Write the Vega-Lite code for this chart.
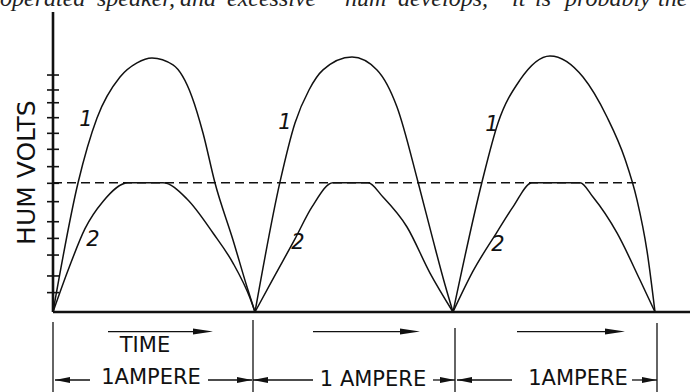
{
  "$schema": "https://vega.github.io/schema/vega-lite/v6.json",
  "width": 690,
  "height": 392,
  "autosize": {"type": "none"},
  "padding": 0,
  "background": "white",
  "config": {"view": {"stroke": null}},
  "datasets": {
    "curves": [
      {"curve": "1", "cycle": 1, "t": 0, "v": 0},
      {"curve": "1", "cycle": 1, "t": 1.25, "v": 7.59},
      {"curve": "1", "cycle": 1, "t": 2.2, "v": 11.41},
      {"curve": "1", "cycle": 1, "t": 3.35, "v": 13.82},
      {"curve": "1", "cycle": 1, "t": 4.2, "v": 14.65},
      {"curve": "1", "cycle": 1, "t": 4.95, "v": 14.94},
      {"curve": "1", "cycle": 1, "t": 6.0, "v": 14.53},
      {"curve": "1", "cycle": 1, "t": 6.95, "v": 12.65},
      {"curve": "1", "cycle": 1, "t": 7.5, "v": 10.53},
      {"curve": "1", "cycle": 1, "t": 8.1, "v": 7.59},
      {"curve": "1", "cycle": 1, "t": 9.0, "v": 4.24},
      {"curve": "1", "cycle": 1, "t": 9.7, "v": 1.47},
      {"curve": "1", "cycle": 1, "t": 10.1, "v": 0},
      {"curve": "1", "cycle": 2, "t": 10.1, "v": 0},
      {"curve": "1", "cycle": 2, "t": 11.35, "v": 7.65},
      {"curve": "1", "cycle": 2, "t": 12.1, "v": 11.12},
      {"curve": "1", "cycle": 2, "t": 12.8, "v": 13.06},
      {"curve": "1", "cycle": 2, "t": 13.5, "v": 14.24},
      {"curve": "1", "cycle": 2, "t": 14.95, "v": 15.0},
      {"curve": "1", "cycle": 2, "t": 16.2, "v": 14.24},
      {"curve": "1", "cycle": 2, "t": 17.2, "v": 12.06},
      {"curve": "1", "cycle": 2, "t": 18.25, "v": 7.65},
      {"curve": "1", "cycle": 2, "t": 19.0, "v": 4.24},
      {"curve": "1", "cycle": 2, "t": 19.6, "v": 1.6},
      {"curve": "1", "cycle": 2, "t": 20.0, "v": 0},
      {"curve": "1", "cycle": 3, "t": 20.0, "v": 0},
      {"curve": "1", "cycle": 3, "t": 21.45, "v": 7.65},
      {"curve": "1", "cycle": 3, "t": 22.25, "v": 11.12},
      {"curve": "1", "cycle": 3, "t": 23.35, "v": 13.65},
      {"curve": "1", "cycle": 3, "t": 24.85, "v": 15.06},
      {"curve": "1", "cycle": 3, "t": 26.5, "v": 13.82},
      {"curve": "1", "cycle": 3, "t": 27.7, "v": 11.47},
      {"curve": "1", "cycle": 3, "t": 28.6, "v": 9.0},
      {"curve": "1", "cycle": 3, "t": 29.2, "v": 6.6},
      {"curve": "1", "cycle": 3, "t": 29.7, "v": 3.6},
      {"curve": "1", "cycle": 3, "t": 30.1, "v": 0},
      {"curve": "2", "cycle": 1, "t": 0, "v": 0},
      {"curve": "2", "cycle": 1, "t": 0.8, "v": 2.6},
      {"curve": "2", "cycle": 1, "t": 1.6, "v": 4.9},
      {"curve": "2", "cycle": 1, "t": 2.5, "v": 6.5},
      {"curve": "2", "cycle": 1, "t": 3.75, "v": 7.6},
      {"curve": "2", "cycle": 1, "t": 5.5, "v": 7.6},
      {"curve": "2", "cycle": 1, "t": 6.7, "v": 6.65},
      {"curve": "2", "cycle": 1, "t": 8.0, "v": 4.65},
      {"curve": "2", "cycle": 1, "t": 9.0, "v": 2.88},
      {"curve": "2", "cycle": 1, "t": 9.85, "v": 0.82},
      {"curve": "2", "cycle": 1, "t": 10.1, "v": 0},
      {"curve": "2", "cycle": 2, "t": 10.1, "v": 0},
      {"curve": "2", "cycle": 2, "t": 11.0, "v": 1.95},
      {"curve": "2", "cycle": 2, "t": 12.1, "v": 4.3},
      {"curve": "2", "cycle": 2, "t": 12.95, "v": 6.18},
      {"curve": "2", "cycle": 2, "t": 14.0, "v": 7.6},
      {"curve": "2", "cycle": 2, "t": 15.75, "v": 7.6},
      {"curve": "2", "cycle": 2, "t": 16.5, "v": 6.76},
      {"curve": "2", "cycle": 2, "t": 17.7, "v": 5.0},
      {"curve": "2", "cycle": 2, "t": 18.85, "v": 2.29},
      {"curve": "2", "cycle": 2, "t": 20.0, "v": 0},
      {"curve": "2", "cycle": 3, "t": 20.0, "v": 0},
      {"curve": "2", "cycle": 3, "t": 21.0, "v": 2.4},
      {"curve": "2", "cycle": 3, "t": 22.2, "v": 4.7},
      {"curve": "2", "cycle": 3, "t": 23.0, "v": 6.18},
      {"curve": "2", "cycle": 3, "t": 23.95, "v": 7.6},
      {"curve": "2", "cycle": 3, "t": 26.35, "v": 7.6},
      {"curve": "2", "cycle": 3, "t": 27.0, "v": 6.76},
      {"curve": "2", "cycle": 3, "t": 28.2, "v": 4.65},
      {"curve": "2", "cycle": 3, "t": 29.35, "v": 1.88},
      {"curve": "2", "cycle": 3, "t": 30.1, "v": 0}
    ],
    "axes": [
      {"x": 0, "x2": 0, "y": 0, "y2": 17.65},
      {"x": 0, "x2": 31.9, "y": 0, "y2": 0}
    ],
    "ticks": [
      {"x": -0.3, "x2": 0.3, "y": 13.94},
      {"x": -0.3, "x2": 0.3, "y": 13.06},
      {"x": -0.3, "x2": 0.3, "y": 12.31},
      {"x": -0.3, "x2": 0.3, "y": 11.43},
      {"x": -0.3, "x2": 0.3, "y": 10.51},
      {"x": -0.3, "x2": 0.3, "y": 9.57},
      {"x": -0.3, "x2": 0.3, "y": 8.55},
      {"x": -0.3, "x2": 0.3, "y": 7.57},
      {"x": -0.3, "x2": 0.3, "y": 6.49},
      {"x": -0.3, "x2": 0.3, "y": 5.31},
      {"x": -0.3, "x2": 0.3, "y": 4.33},
      {"x": -0.3, "x2": 0.3, "y": 3.35},
      {"x": -0.3, "x2": 0.3, "y": 2.12},
      {"x": -0.3, "x2": 0.3, "y": 1.14}
    ],
    "dashed": [
      {"x": 0, "x2": 29.25, "y": 7.6, "y2": 7.6}
    ],
    "thin": [
      {"x": 0, "x2": 0, "y": -0.59, "y2": -4.8},
      {"x": 10.0, "x2": 10.0, "y": -0.47, "y2": -4.8},
      {"x": 20.1, "x2": 20.1, "y": -0.94, "y2": -4.8},
      {"x": 30.2, "x2": 30.2, "y": -0.65, "y2": -4.8},
      {"x": 2.75, "x2": 7.5, "y": -1.15, "y2": -1.15},
      {"x": 13.0, "x2": 17.85, "y": -1.15, "y2": -1.15},
      {"x": 23.2, "x2": 28.1, "y": -1.15, "y2": -1.15},
      {"x": 0.1, "x2": 1.85, "y": -4.0, "y2": -4.0},
      {"x": 7.75, "x2": 9.95, "y": -4.0, "y2": -4.0},
      {"x": 10.0, "x2": 13.0, "y": -4.0, "y2": -4.0},
      {"x": 19.0, "x2": 20.1, "y": -4.0, "y2": -4.0},
      {"x": 20.2, "x2": 22.95, "y": -4.0, "y2": -4.0},
      {"x": 28.95, "x2": 30.2, "y": -4.0, "y2": -4.0}
    ],
    "timeHeads": [
      {"x": 7.5, "y": -1.15},
      {"x": 17.85, "y": -1.15},
      {"x": 28.1, "y": -1.15}
    ],
    "leftHeads": [
      {"x": 0.475, "y": -4.0},
      {"x": 10.375, "y": -4.0},
      {"x": 20.575, "y": -4.0}
    ],
    "rightHeads": [
      {"x": 9.575, "y": -4.0},
      {"x": 19.725, "y": -4.0},
      {"x": 29.825, "y": -4.0}
    ],
    "labels": [
      {"text": "TIME", "x": 4.6, "y": -2.0},
      {"text": "1AMPERE", "x": 4.9, "y": -3.9},
      {"text": "1 AMPERE", "x": 16.0, "y": -4.0},
      {"text": "1AMPERE", "x": 26.25, "y": -3.95}
    ],
    "curveLabels": [
      {"text": "1", "x": 1.65, "y": 11.3},
      {"text": "2", "x": 2.0, "y": 4.25},
      {"text": "1", "x": 11.6, "y": 11.1},
      {"text": "2", "x": 12.25, "y": 4.05},
      {"text": "1", "x": 21.95, "y": 11.0},
      {"text": "2", "x": 22.25, "y": 3.95}
    ],
    "axisTitle": [
      {"text": "HUM VOLTS", "x": -1.3, "y": 8.2}
    ],
    "words": [
      {"word": "operated", "x": -2.65, "y": 18.0},
      {"word": "speaker,", "x": 2.2, "y": 18.0},
      {"word": "and", "x": 6.35, "y": 18.0},
      {"word": "excessive", "x": 8.7, "y": 18.0},
      {"word": "hum", "x": 14.6, "y": 18.0},
      {"word": "develops,", "x": 17.25, "y": 18.0},
      {"word": "it", "x": 22.95, "y": 18.0},
      {"word": "is", "x": 24.1, "y": 18.0},
      {"word": "probably", "x": 25.6, "y": 18.0},
      {"word": "the", "x": 30.25, "y": 18.0}
    ]
  },
  "layer": [
    {
      "data": {"name": "axes"},
      "mark": {"type": "rule", "color": "#111111", "strokeWidth": 2.6},
      "encoding": {
        "x": {"field": "x", "type": "quantitative", "scale": {"domain": [-2.65, 31.85], "nice": false, "zero": false}, "axis": null},
        "x2": {"field": "x2"},
        "y": {"field": "y", "type": "quantitative", "scale": {"domain": [-4.706, 18.353], "nice": false, "zero": false}, "axis": null},
        "y2": {"field": "y2"}
      }
    },
    {
      "data": {"name": "ticks"},
      "mark": {"type": "rule", "color": "#111111", "strokeWidth": 1.6},
      "encoding": {
        "x": {"field": "x", "type": "quantitative", "scale": {"domain": [-2.65, 31.85], "nice": false, "zero": false}, "axis": null},
        "x2": {"field": "x2"},
        "y": {"field": "y", "type": "quantitative", "scale": {"domain": [-4.706, 18.353], "nice": false, "zero": false}, "axis": null}
      }
    },
    {
      "data": {"name": "dashed"},
      "mark": {"type": "rule", "color": "#111111", "strokeWidth": 1.6, "strokeDash": [9, 5]},
      "encoding": {
        "x": {"field": "x", "type": "quantitative", "scale": {"domain": [-2.65, 31.85], "nice": false, "zero": false}, "axis": null},
        "x2": {"field": "x2"},
        "y": {"field": "y", "type": "quantitative", "scale": {"domain": [-4.706, 18.353], "nice": false, "zero": false}, "axis": null},
        "y2": {"field": "y2"}
      }
    },
    {
      "data": {"name": "thin"},
      "mark": {"type": "rule", "color": "#111111", "strokeWidth": 1.3},
      "encoding": {
        "x": {"field": "x", "type": "quantitative", "scale": {"domain": [-2.65, 31.85], "nice": false, "zero": false}, "axis": null},
        "x2": {"field": "x2"},
        "y": {"field": "y", "type": "quantitative", "scale": {"domain": [-4.706, 18.353], "nice": false, "zero": false}, "axis": null},
        "y2": {"field": "y2"}
      }
    },
    {
      "data": {"name": "curves"},
      "mark": {"type": "line", "color": "#111111", "strokeWidth": 1.5, "interpolate": "monotone"},
      "encoding": {
        "x": {"field": "t", "type": "quantitative", "scale": {"domain": [-2.65, 31.85], "nice": false, "zero": false}, "axis": null},
        "y": {"field": "v", "type": "quantitative", "scale": {"domain": [-4.706, 18.353], "nice": false, "zero": false}, "axis": null},
        "detail": [{"field": "curve", "type": "nominal"}, {"field": "cycle", "type": "nominal"}],
        "order": {"field": "t", "type": "quantitative"}
      }
    },
    {
      "data": {"name": "timeHeads"},
      "mark": {"type": "point", "shape": "M-1,-0.3L1,0L-1,0.3Z", "filled": true, "size": 400, "color": "#111111", "opacity": 1},
      "encoding": {
        "x": {"field": "x", "type": "quantitative", "scale": {"domain": [-2.65, 31.85], "nice": false, "zero": false}, "axis": null},
        "y": {"field": "y", "type": "quantitative", "scale": {"domain": [-4.706, 18.353], "nice": false, "zero": false}, "axis": null}
      }
    },
    {
      "data": {"name": "leftHeads"},
      "mark": {"type": "point", "shape": "M1,-0.4L-1,0L1,0.4Z", "filled": true, "size": 225, "color": "#111111", "opacity": 1},
      "encoding": {
        "x": {"field": "x", "type": "quantitative", "scale": {"domain": [-2.65, 31.85], "nice": false, "zero": false}, "axis": null},
        "y": {"field": "y", "type": "quantitative", "scale": {"domain": [-4.706, 18.353], "nice": false, "zero": false}, "axis": null}
      }
    },
    {
      "data": {"name": "rightHeads"},
      "mark": {"type": "point", "shape": "M-1,-0.4L1,0L-1,0.4Z", "filled": true, "size": 225, "color": "#111111", "opacity": 1},
      "encoding": {
        "x": {"field": "x", "type": "quantitative", "scale": {"domain": [-2.65, 31.85], "nice": false, "zero": false}, "axis": null},
        "y": {"field": "y", "type": "quantitative", "scale": {"domain": [-4.706, 18.353], "nice": false, "zero": false}, "axis": null}
      }
    },
    {
      "data": {"name": "labels"},
      "mark": {"type": "text", "font": "DejaVu Sans", "fontSize": 21, "color": "#111111", "align": "center", "baseline": "middle"},
      "encoding": {
        "x": {"field": "x", "type": "quantitative", "scale": {"domain": [-2.65, 31.85], "nice": false, "zero": false}, "axis": null},
        "y": {"field": "y", "type": "quantitative", "scale": {"domain": [-4.706, 18.353], "nice": false, "zero": false}, "axis": null},
        "text": {"field": "text"}
      }
    },
    {
      "data": {"name": "curveLabels"},
      "mark": {"type": "text", "font": "DejaVu Sans", "fontSize": 21, "fontStyle": "italic", "color": "#111111", "align": "center", "baseline": "middle"},
      "encoding": {
        "x": {"field": "x", "type": "quantitative", "scale": {"domain": [-2.65, 31.85], "nice": false, "zero": false}, "axis": null},
        "y": {"field": "y", "type": "quantitative", "scale": {"domain": [-4.706, 18.353], "nice": false, "zero": false}, "axis": null},
        "text": {"field": "text"}
      }
    },
    {
      "data": {"name": "axisTitle"},
      "mark": {"type": "text", "font": "DejaVu Sans", "fontSize": 25, "angle": 270, "color": "#111111", "align": "center", "baseline": "middle"},
      "encoding": {
        "x": {"field": "x", "type": "quantitative", "scale": {"domain": [-2.65, 31.85], "nice": false, "zero": false}, "axis": null},
        "y": {"field": "y", "type": "quantitative", "scale": {"domain": [-4.706, 18.353], "nice": false, "zero": false}, "axis": null},
        "text": {"field": "text"}
      }
    },
    {
      "data": {"name": "words"},
      "mark": {"type": "text", "font": "Liberation Serif", "fontSize": 24, "fontStyle": "italic", "color": "#222222", "align": "left", "baseline": "alphabetic", "clip": true},
      "encoding": {
        "x": {"field": "x", "type": "quantitative", "scale": {"domain": [-2.65, 31.85], "nice": false, "zero": false}, "axis": null},
        "y": {"field": "y", "type": "quantitative", "scale": {"domain": [-4.706, 18.353], "nice": false, "zero": false}, "axis": null},
        "text": {"field": "word"}
      }
    }
  ]
}
